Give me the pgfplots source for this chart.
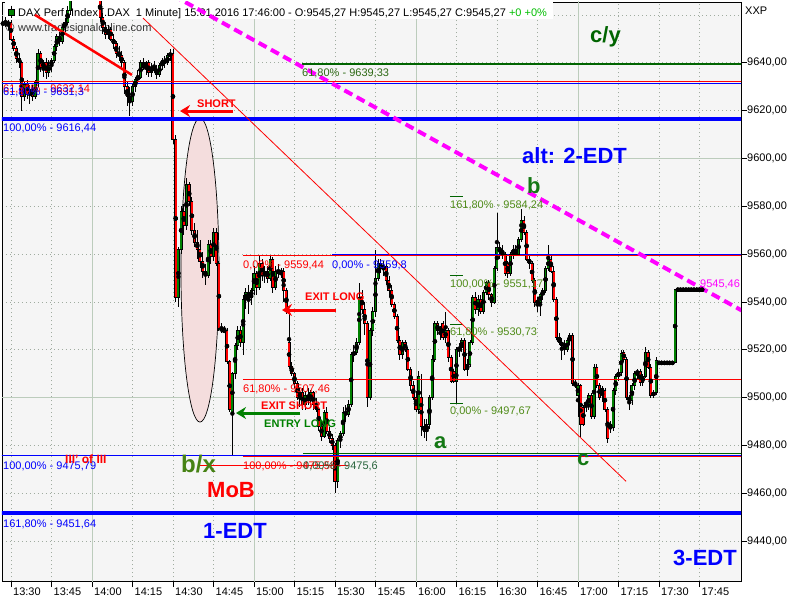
\documentclass[border=0pt]{standalone}
\usepackage{fontspec}
\setmainfont{Liberation Sans}
\usepackage{pgfplots}
\pgfplotsset{compat=1.18}
\usepackage{pgfplotstable}
\usetikzlibrary{arrows.meta}

\definecolor{plotbg}{RGB}{245,245,245}
\definecolor{griddot}{RGB}{160,172,160}
\definecolor{gridsolid}{RGB}{188,204,188}
\definecolor{cgreen}{RGB}{0,128,0}
\definecolor{mtred}{RGB}{255,0,0}
\definecolor{mtblue}{RGB}{0,0,255}
\definecolor{fibgreen}{RGB}{0,100,0}
\definecolor{fibtext}{RGB}{80,140,25}
\definecolor{fibtextdark}{RGB}{45,105,20}
\definecolor{lvlgreen}{RGB}{40,100,60}
\definecolor{cytext}{RGB}{0,100,0}
\definecolor{bxtext}{RGB}{70,130,20}
\definecolor{abctext}{RGB}{20,120,20}
\definecolor{ellfill}{RGB}{244,221,221}
\definecolor{mag}{RGB}{255,0,255}
\definecolor{hdrgreen}{RGB}{0,190,0}

% 1-minute bars, m = minutes after 13:30
\pgfplotstableread{
m o h l c
-3 9656 9658 9655 9657
-2 9657 9659 9655 9656
-1 9656 9658 9654 9657
0 9657 9658 9649 9650
1 9650 9651 9645 9646
2 9646 9647 9640 9642
3 9642 9644 9638 9640
4 9640 9641 9620 9626
5 9626 9632 9624 9631
6 9631 9633 9625 9627
7 9627 9631 9623 9629
8 9629 9631 9624 9626
9 9626 9633 9625 9632
10 9632 9646 9630 9644
11 9644 9645 9636 9638
12 9638 9641 9634 9640
13 9640 9642 9633 9636
14 9636 9641 9634 9639
15 9639 9642 9636 9641
16 9641 9648 9640 9647
17 9647 9652 9645 9651
18 9651 9653 9647 9649
19 9649 9656 9648 9655
20 9655 9659 9653 9657
21 9657 9664 9656 9662
22 9662 9672 9660 9670
23 9670 9676 9668 9674
24 9674 9678 9671 9672
25 9672 9677 9670 9676
26 9676 9680 9673 9674
27 9674 9677 9670 9671
28 9671 9675 9669 9673
29 9673 9678 9671 9676
30 9676 9679 9672 9673
31 9673 9675 9669 9670
32 9670 9673 9667 9668
33 9668 9669 9657 9659
34 9659 9661 9652 9655
35 9655 9657 9650 9652
36 9652 9656 9650 9654
37 9654 9655 9649 9650
38 9650 9652 9646 9648
39 9648 9649 9642 9644
40 9644 9647 9641 9643
41 9643 9645 9638 9640
42 9640 9641 9627 9630
43 9630 9632 9622 9626
44 9626 9630 9618 9624
45 9624 9631 9622 9630
46 9630 9634 9628 9633
47 9633 9637 9631 9634
48 9634 9641 9633 9640
49 9640 9642 9637 9638
50 9638 9641 9635 9640
51 9640 9641 9634 9636
52 9636 9640 9634 9638
53 9638 9641 9636 9637
54 9637 9639 9633 9635
55 9635 9640 9634 9639
56 9639 9642 9637 9641
57 9641 9643 9638 9640
58 9640 9644 9639 9643
59 9643 9646 9641 9644
60 9644 9646 9606 9608
61 9608 9610 9540 9542
62 9542 9563 9538 9562
63 9562 9580 9560 9578
64 9578 9581 9568 9572
65 9572 9592 9570 9589
66 9589 9590 9580 9582
67 9582 9584 9568 9570
68 9570 9573 9563 9565
69 9565 9570 9558 9562
70 9562 9566 9554 9557
71 9557 9561 9550 9553
72 9553 9556 9547 9551
73 9551 9566 9550 9564
74 9564 9566 9556 9559
75 9559 9571 9557 9569
76 9569 9571 9555 9556
77 9556 9557 9528 9529
78 9529 9531 9527 9528
79 9528 9530 9527 9528
80 9528 9529 9514 9515
81 9515 9516 9494 9495
82 9494 9511 9475.8 9510
83 9510 9523 9508 9522
84 9522 9530 9520 9528
85 9528 9530 9521 9523
86 9523 9543 9518 9541
87 9541 9546 9537 9544
88 9544 9547 9535 9542
89 9542 9546 9539 9545
90 9545 9555 9543 9552
91 9552 9553 9543 9546
92 9546 9559.4 9545 9556
93 9556 9558 9549 9551
94 9551 9555 9548 9553
95 9553 9555 9548 9550
96 9550 9559.4 9549 9558
97 9558 9559 9544 9546
98 9546 9555 9545 9553
99 9553 9556 9550 9552
100 9552 9554 9550 9553
101 9553 9554 9540 9545
102 9545 9546 9535 9537
103 9523 9537 9512 9513
104 9513 9515 9509 9510
105 9510 9511 9504 9506
106 9506 9507 9499 9500
107 9500 9504 9496 9502
108 9502 9504 9495 9497
109 9497 9503 9495 9501
110 9501 9504 9497 9499
111 9499 9503 9497 9502
112 9502 9503 9495 9497
113 9497 9500 9494 9495
114 9495 9496 9486 9488
115 9488 9490 9482 9484
116 9484 9495 9483 9494
117 9494 9496 9485 9486
118 9486 9488 9481 9483
119 9483 9485 9478 9480
120 9480 9481 9460 9465
121 9465 9483 9462 9482
122 9482 9486 9479 9485
123 9485 9496 9484 9494
124 9494 9497 9490 9493
125 9493 9499 9492 9497
126 9497 9519 9496 9518
127 9518 9522 9515 9519
128 9519 9525 9518 9523
129 9523 9548 9522 9542
130 9542 9545 9535 9537
131 9537 9540 9526 9531
132 9531 9532 9496 9500
133 9500 9529 9499 9528
134 9528 9538 9526 9536
135 9536 9561.7 9534 9550
136 9550 9558 9549 9556
137 9556 9558 9552 9554
138 9554 9557 9551 9555
139 9555 9556 9547 9549
140 9549 9551 9542 9545
141 9545 9547 9538 9539
142 9539 9540 9533 9534
143 9534 9535 9523 9524
144 9524 9526 9516 9518
145 9518 9524 9516 9523
146 9523 9524 9519 9520
147 9520 9521 9511 9512
148 9512 9513 9503 9505
149 9505 9507 9499 9500
150 9500 9503 9494 9495
151 9495 9511 9493 9509
152 9500 9510 9484 9488
153 9488 9491 9483 9486
154 9486 9491 9482 9489
155 9489 9501 9487 9500
156 9500 9518 9499 9516
157 9516 9532 9515 9531
158 9531 9532 9526 9528
159 9528 9530 9524 9529
160 9531 9532 9524 9525
161 9525 9536 9523 9528
162 9528 9529 9515 9517
163 9517 9518 9506 9507
164 9511 9512 9506 9507
165 9507 9521 9497.67 9520
166 9520 9523 9517 9521
167 9521 9525 9519 9524
168 9524 9525 9511 9512
169 9512 9516 9509 9514
170 9514 9524 9513 9523
171 9523 9543 9522 9542
172 9542 9544 9535 9537
173 9537 9543 9534 9541
174 9541 9543 9535 9536
175 9536 9545 9535 9544
176 9544 9549 9543 9548
177 9548 9549 9541 9543
178 9543 9544 9538 9540
179 9540 9555 9539 9554
180 9554 9577 9553 9563
181 9563 9565 9558 9561
182 9561 9564 9558 9560
183 9560 9561 9551 9552
184 9556 9557 9550 9552
185 9552 9561 9551 9560
186 9560 9564 9558 9562
187 9562 9564 9559 9560
188 9560 9567 9559 9566
189 9566 9579 9565 9574
190 9574 9576 9568 9569
191 9569 9570 9557 9558
192 9558 9560 9554 9556
193 9556 9557 9548 9549
194 9549 9550 9538 9540
195 9540 9542 9536 9540
196 9540 9544 9534 9543
197 9543 9546 9541 9545
198 9545 9555 9544 9554
199 9554 9564 9553 9558
200 9558 9560 9552 9553
201 9553 9555 9540 9541
202 9541 9542 9524 9525
203 9525 9527 9522 9523
204 9523 9525 9516 9522
205 9522 9524 9518 9520
206 9520 9525 9519 9524
207 9524 9527 9522 9526
208 9526 9527 9505 9506
209 9506 9508 9504 9505
210 9501 9506 9492 9505
211 9505 9506 9483.5 9489
212 9496 9497 9488 9489
213 9497 9499 9494 9498
214 9497 9502 9495 9501
215 9501 9502 9491 9492
216 9492 9514 9491 9512.7
217 9512.7 9514 9504 9505
218 9505 9506 9499 9500
219 9502 9505 9498 9504
220 9503 9504 9494 9495
221 9495 9496 9481 9483
222 9489 9490 9485 9487.6
223 9487.6 9504 9486 9503
224 9503 9510 9501 9509
225 9509 9512 9507 9510.7
226 9510.7 9520 9509 9518.6
227 9519 9520 9515 9516
228 9516 9517 9499 9500
229 9500 9501 9495 9499
230 9499 9506 9497 9505
231 9505 9511 9503 9510
232 9510 9512 9508 9511
233 9511 9512 9505 9506.5
234 9506.5 9510 9505 9509
235 9509 9521 9508 9519
236 9519 9520 9512 9512.7
237 9512.7 9514 9500 9501
238 9501 9503 9500 9502
239 9502 9517 9501 9515.6
240 9514.6 9514.6 9514.6 9514.6
241 9514.6 9514.6 9514.6 9514.6
242 9514.6 9514.6 9514.6 9514.6
243 9514.6 9514.6 9514.6 9514.6
244 9514.6 9514.6 9514.6 9514.6
245 9514.6 9514.6 9514.6 9514.6
246 9514.6 9545.3 9514.6 9545.27
247 9545.27 9545.27 9545.27 9545.27
248 9545.27 9545.27 9545.27 9545.27
249 9545.27 9545.27 9545.27 9545.27
250 9545.27 9545.27 9545.27 9545.27
251 9545.27 9545.27 9545.27 9545.27
252 9545.27 9545.27 9545.27 9545.27
253 9545.27 9545.27 9545.27 9545.27
254 9545.27 9545.27 9545.27 9545.27
255 9545.27 9545.27 9545.27 9545.27
256 9545.27 9545.27 9545.27 9545.27
}\candles

\begin{document}
\begin{tikzpicture}[font=\fontsize{11bp}{13bp}\selectfont]
\fill[white] (0,0) rectangle (800bp,-600bp);
\path[use as bounding box] (0,0) rectangle (800bp,-600bp);
\begin{axis}[
    at={(2bp,-581bp)}, anchor=south west,
    scale only axis, width=739bp, height=579bp,
    xmin=-3.33, xmax=270.4, ymin=9423.3, ymax=9665.4,
    axis background/.style={fill=plotbg},
    axis line style={black, line width=0.8bp},
    xtick={0,15,...,255},
    xticklabels={13:30,13:45,14:00,14:15,14:30,14:45,15:00,15:15,15:30,15:45,16:00,16:15,16:30,16:45,17:00,17:15,17:30,17:45},
    ytick={9440,9460,...,9640},
    yticklabels={{9440,00},{9460,00},{9480,00},{9500,00},{9520,00},{9540,00},{9560,00},{9580,00},{9600,00},{9620,00},{9640,00}},
    extra y ticks={9660}, extra y tick labels={},
    extra y tick style={major tick length=0pt},
    xtick pos=left, ytick pos=right,
    xticklabel pos=left, yticklabel pos=right,
    tick align=outside,
    major tick length=6bp,
    tick style={black, line width=0.8bp},
    grid=major,
    major grid style={griddot, line width=0.8bp, dash pattern=on 1bp off 3bp},
    tick label style={font=\fontsize{11bp}{13bp}\selectfont},
    xticklabel style={anchor=north west, inner sep=0pt, xshift=2bp, yshift=-1bp},
    yticklabel style={anchor=west, inner sep=0pt},
]
% solid grid: hours and hundreds
\addplot[gridsolid, line width=0.8bp, forget plot] coordinates {(30,9400) (30,9700)};
\addplot[gridsolid, line width=0.8bp, forget plot] coordinates {(90,9400) (90,9700)};
\addplot[gridsolid, line width=0.8bp, forget plot] coordinates {(150,9400) (150,9700)};
\addplot[gridsolid, line width=0.8bp, forget plot] coordinates {(210,9400) (210,9700)};
\addplot[gridsolid, line width=0.8bp, forget plot] coordinates {(-10,9500) (300,9500)};
\addplot[gridsolid, line width=0.8bp, forget plot] coordinates {(-10,9600) (300,9600)};

% header strip
\fill[white] (axis cs:-2.2,9667) rectangle (axis cs:200.7,9658.3);
\draw[black, line width=0.6bp] (axis cs:0.19,9663.9) -- (axis cs:0.19,9658.6);
\draw[black, line width=0.6bp, fill=cgreen] (axis cs:-0.93,9662.45) rectangle (axis cs:1.30,9659.9);
\node[anchor=base west, inner sep=0pt] at (axis cs:2.59,9659.5)
  {DAX Perf. Index [.DAX\ \ 1 Minute] 15.01.2016 17:46:00 - O:9545,27 H:9545,27 L:9545,27 C:9545,27 \textcolor{hdrgreen}{+0 +0\%}};
\draw[black!70, line width=0.6bp] (axis cs:-0.37,9654.9) circle [radius=4bp];
\node[anchor=base west, inner sep=0pt, text=black!80] at (axis cs:2.59,9653.25) {www.tradesignalonline.com};

% ellipse behind the bars
\draw[black, line width=0.7bp, fill=ellfill] (axis cs:70,9553.3) ellipse [x radius=19bp, y radius=152bp];

% candlesticks
\addplot[only marks, mark=none, forget plot,
  error bars/.cd, y dir=both, y explicit, error mark=none,
  error bar style={black, line width=0.8bp}]
  table[x=m, y expr={(\thisrow{h}+\thisrow{l})/2}, y error expr={(\thisrow{h}-\thisrow{l})/2}] {\candles};
\addplot[only marks, mark=none, forget plot,
  error bars/.cd, y dir=both, y explicit, error mark=none,
  error bar style={black, line width=3bp, line cap=butt}]
  table[x=m, y expr={(\thisrow{o}+\thisrow{c})/2}, y error expr={abs(\thisrow{c}-\thisrow{o})/2}] {\candles};
\addplot[only marks, mark=none, forget plot,
  restrict expr to domain={\thisrow{c}-\thisrow{o}}{-0.0001:1000},
  error bars/.cd, y dir=both, y explicit, error mark=none,
  error bar style={cgreen, line width=1.8bp, line cap=butt}]
  table[x=m, y expr={(\thisrow{o}+\thisrow{c})/2}, y error expr={abs(\thisrow{c}-\thisrow{o})/2}] {\candles};
\addplot[only marks, mark=none, forget plot,
  restrict expr to domain={\thisrow{c}-\thisrow{o}}{-1000:-0.001},
  error bars/.cd, y dir=both, y explicit, error mark=none,
  error bar style={mtred, line width=1.8bp, line cap=butt}]
  table[x=m, y expr={(\thisrow{o}+\thisrow{c})/2}, y error expr={abs(\thisrow{c}-\thisrow{o})/2}] {\candles};
\addplot[only marks, mark=-, mark size=1.5bp, mark options={black, line width=0.6bp}, forget plot]
  table[x=m, y=o] {\candles};
\addplot[only marks, mark=-, mark size=1.5bp, mark options={black, line width=0.6bp}, forget plot]
  table[x=m, y=c] {\candles};

% Fibonacci levels
\addplot[mtred, line width=1bp] coordinates {(-10,9632.14) (300,9632.14)};
\addplot[mtblue, line width=1bp] coordinates {(-10,9631.3) (300,9631.3)};
\addplot[fibgreen, line width=2bp] coordinates {(107.8,9639.33) (300,9639.33)};
\addplot[mtblue, line width=3.5bp] coordinates {(-10,9616.44) (300,9616.44)};
\addplot[mtred, line width=1bp] coordinates {(85.9,9559.44) (300,9559.44)};
\addplot[mtblue, line width=1bp] coordinates {(118.9,9559.8) (300,9559.8)};
\addplot[mtred, line width=1bp] coordinates {(85.9,9507.46) (300,9507.46)};
\addplot[mtred, line width=1.2bp] coordinates {(85.9,9475.3) (300,9475.3)};
\addplot[mtblue, line width=1.2bp] coordinates {(-10,9475.9) (300,9475.9)};
\addplot[fibgreen, line width=1.2bp] coordinates {(108.1,9476.6) (300,9476.6)};
\addplot[mtred, line width=0.8bp] coordinates {(70,9471.6) (124.8,9471.6)};
\addplot[mtblue, line width=3.5bp] coordinates {(-10,9451.64) (300,9451.64)};
\addplot[fibgreen, line width=1bp] coordinates {(162.6,9584.24) (167.4,9584.24)};
\addplot[fibgreen, line width=1bp] coordinates {(162.6,9551.17) (167.4,9551.17)};
\addplot[fibgreen, line width=1bp] coordinates {(162.6,9530.73) (167.4,9530.73)};
\addplot[fibgreen, line width=1bp] coordinates {(162.6,9497.67) (167.4,9497.67)};

% trend lines
\addplot[mtred, line width=2.5bp] coordinates {(8.9,9660) (44.8,9634.9)};
\addplot[mtred, line width=0.8bp] coordinates {(48.9,9658.7) (227.8,9465)};
\addplot[mag, line width=4bp, dash pattern=on 9bp off 5bp] coordinates {(60,9668.2) (271,9536.2)};
\end{axis}

% annotations, in pixel coordinates of the 800x600 frame
\begin{scope}[x=1bp, y=-1bp, every node/.style={inner sep=0pt, anchor=base west}]
\node at (745,14) {XXP};

\node[text=fibtextdark] at (302,76) {61,80\% - 9639,33};
\node[text=mtred] at (3,92) {61,80\% - 9632,14};
\node[text=mtblue] at (3,95) {61,80\% - 9631,3};
\node[text=mtblue] at (3,131) {100,00\% - 9616,44};
\node[text=mtred] at (243,268) {0,00\% - 9559,44};
\node[text=mtblue] at (332,268) {0,00\% - 9559,8};
\node[text=mtred] at (243,392) {61,80\% - 9507,46};
\node[text=mtblue] at (3,469) {100,00\% - 9475,79};
\node[text=mtred] at (243,469) {100,00\% - 9475,58};
\node[text=lvlgreen] at (303,469) {0,00\% - 9475,6};
\node[text=mtblue] at (3,527) {161,80\% - 9451,64};
\node[text=fibtext] at (450,208) {161,80\% - 9584,24};
\node[text=fibtext] at (450,287) {100,00\% - 9551,17};
\node[text=fibtext] at (450,335) {61,80\% - 9530,73};
\node[text=fibtext] at (450,414) {0,00\% - 9497,67};
\node[text=mag] at (700,287) {9545,46};

\node[text=mtred, font=\fontsize{11bp}{13bp}\selectfont\bfseries] at (197,107) {SHORT};
\draw[mtred, line width=3bp, -{Stealth[length=10bp, width=12bp]}] (233,111) -- (180,111);
\node[text=mtred, font=\fontsize{11bp}{13bp}\selectfont\bfseries] at (305,300) {EXIT LONG};
\draw[mtred, line width=3bp, -{Stealth[length=10bp, width=12bp]}] (336,310) -- (282,310);
\node[text=mtred, font=\fontsize{11bp}{13bp}\selectfont\bfseries] at (261,409) {EXIT SHORT};
\node[text=cgreen, font=\fontsize{11bp}{13bp}\selectfont\bfseries] at (264,427) {ENTRY LONG};
\draw[cgreen, line width=3bp, -{Stealth[length=10bp, width=12bp]}] (300,413) -- (236,413);
\node[text=mtred, font=\fontsize{12bp}{14bp}\selectfont\bfseries] at (65,463) {III' of III};

\node[text=cytext, font=\fontsize{22bp}{26bp}\selectfont\bfseries] at (590,42) {c/y};
\node[text=mtblue, font=\fontsize{22bp}{26bp}\selectfont\bfseries] at (522,163) {alt: 2-EDT};
\node[text=abctext, font=\fontsize{22bp}{26bp}\selectfont\bfseries] at (527,193) {b};
\node[text=abctext, font=\fontsize{22bp}{26bp}\selectfont\bfseries] at (434,448) {a};
\node[text=abctext, font=\fontsize{22bp}{26bp}\selectfont\bfseries] at (577,465) {c};
\node[text=bxtext, font=\fontsize{24bp}{28bp}\selectfont\bfseries] at (181,472) {b/x};
\node[text=mtred, font=\fontsize{22bp}{26bp}\selectfont\bfseries] at (207,497) {MoB};
\node[text=mtblue, font=\fontsize{22bp}{26bp}\selectfont\bfseries] at (203,538) {1-EDT};
\node[text=mtblue, font=\fontsize{22bp}{26bp}\selectfont\bfseries] at (673,565) {3-EDT};
\end{scope}
\end{tikzpicture}
\end{document}
